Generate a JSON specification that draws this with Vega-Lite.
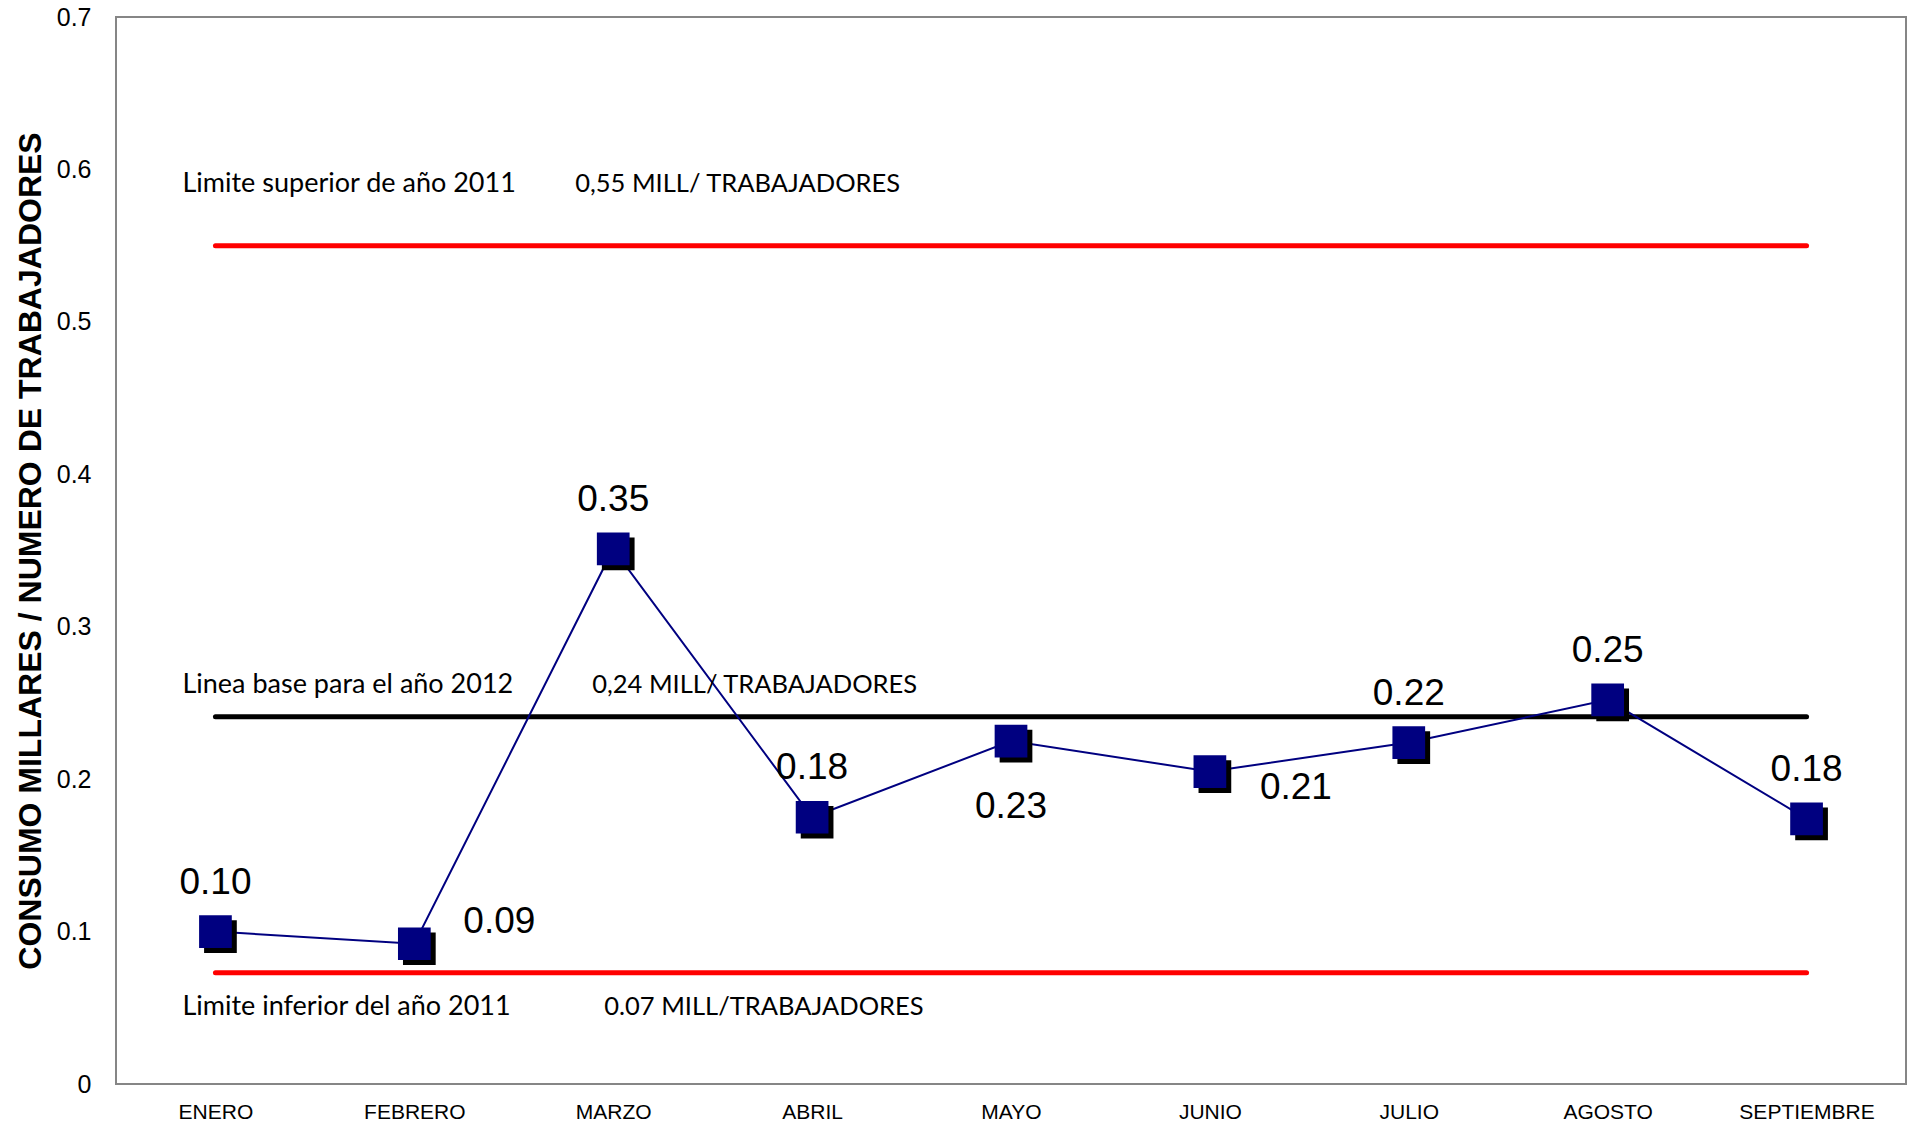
{
  "$schema": "https://vega.github.io/schema/vega-lite/v6.json",
  "width": 1790,
  "height": 1067,
  "autosize": {"type": "none"},
  "padding": {"left": 116, "top": 17, "right": 1, "bottom": 40},
  "background": "white",
  "config": {
    "view": {"stroke": "#868686", "strokeWidth": 2},
    "font": "Liberation Sans"
  },
  "datasets": {
    "consumo": [
      {"mes": "ENERO", "valor": 0.100, "etiqueta": "0.10"},
      {"mes": "FEBRERO", "valor": 0.092, "etiqueta": "0.09"},
      {"mes": "MARZO", "valor": 0.351, "etiqueta": "0.35"},
      {"mes": "ABRIL", "valor": 0.175, "etiqueta": "0.18"},
      {"mes": "MAYO", "valor": 0.225, "etiqueta": "0.23"},
      {"mes": "JUNIO", "valor": 0.205, "etiqueta": "0.21"},
      {"mes": "JULIO", "valor": 0.224, "etiqueta": "0.22"},
      {"mes": "AGOSTO", "valor": 0.252, "etiqueta": "0.25"},
      {"mes": "SEPTIEMBRE", "valor": 0.174, "etiqueta": "0.18"}
    ],
    "limites": [
      {"serie": "Limite superior", "mes": "ENERO", "valor": 0.55},
      {"serie": "Limite superior", "mes": "SEPTIEMBRE", "valor": 0.55},
      {"serie": "Linea base", "mes": "ENERO", "valor": 0.241},
      {"serie": "Linea base", "mes": "SEPTIEMBRE", "valor": 0.241},
      {"serie": "Limite inferior", "mes": "ENERO", "valor": 0.073},
      {"serie": "Limite inferior", "mes": "SEPTIEMBRE", "valor": 0.073}
    ]
  },
  "encoding": {
    "x": {
      "field": "mes",
      "type": "ordinal",
      "sort": ["ENERO", "FEBRERO", "MARZO", "ABRIL", "MAYO", "JUNIO", "JULIO", "AGOSTO", "SEPTIEMBRE"],
      "scale": {
        "type": "point",
        "padding": 0.5,
        "domain": ["ENERO", "FEBRERO", "MARZO", "ABRIL", "MAYO", "JUNIO", "JULIO", "AGOSTO", "SEPTIEMBRE"]
      },
      "axis": {
        "title": null,
        "ticks": false,
        "domain": false,
        "grid": false,
        "labelAngle": 0,
        "labelFontSize": 21,
        "labelPadding": 17,
        "labelColor": "black",
        "labelFont": "Liberation Sans"
      }
    },
    "y": {
      "field": "valor",
      "type": "quantitative",
      "scale": {"domain": [0, 0.7], "nice": false, "zero": true},
      "axis": {
        "title": "CONSUMO  MILLARES / NUMERO DE TRABAJADORES",
        "values": [0, 0.1, 0.2, 0.3, 0.4, 0.5, 0.6, 0.7],
        "format": ".1~f",
        "grid": false,
        "ticks": false,
        "domain": false,
        "labelFlush": false,
        "labelOverlap": false,
        "labelFontSize": 25,
        "labelPadding": 25,
        "labelColor": "black",
        "labelFont": "Liberation Sans",
        "titleFont": "Liberation Sans",
        "titleFontSize": 32,
        "titleFontWeight": "bold",
        "titleColor": "black",
        "titleAngle": 270,
        "titleAlign": "center",
        "titleBaseline": "middle",
        "titleX": -86,
        "titleY": 533.5
      }
    }
  },
  "layer": [
    {
      "data": {"name": "limites"},
      "mark": {"type": "line", "strokeWidth": 5, "strokeCap": "round"},
      "encoding": {
        "color": {
          "field": "serie",
          "type": "nominal",
          "scale": {"domain": ["Limite superior", "Linea base", "Limite inferior"], "range": ["#ff0000", "#000000", "#ff0000"]},
          "legend": null
        }
      }
    },
    {
      "data": {"name": "consumo"},
      "mark": {"type": "line", "color": "#000080", "strokeWidth": 2}
    },
    {
      "data": {"name": "consumo"},
      "mark": {"type": "point", "shape": "square", "filled": true, "opacity": 1, "color": "#000000", "size": 1070, "xOffset": 5, "yOffset": 5}
    },
    {
      "data": {"name": "consumo"},
      "mark": {"type": "point", "shape": "square", "filled": true, "opacity": 1, "color": "#000080", "size": 1070}
    },
    {
      "data": {"name": "consumo"},
      "transform": [{"filter": {"field": "mes", "oneOf": ["ENERO", "MARZO", "ABRIL", "JULIO", "AGOSTO", "SEPTIEMBRE"]}}],
      "mark": {"type": "text", "fontSize": 37, "color": "black", "dy": -49, "baseline": "middle", "align": "center"},
      "encoding": {"text": {"field": "etiqueta"}}
    },
    {
      "data": {"name": "consumo"},
      "transform": [{"filter": {"field": "mes", "equal": "FEBRERO"}}],
      "mark": {"type": "text", "fontSize": 37, "color": "black", "dx": 85, "dy": -22, "baseline": "middle", "align": "center"},
      "encoding": {"text": {"field": "etiqueta"}}
    },
    {
      "data": {"name": "consumo"},
      "transform": [{"filter": {"field": "mes", "equal": "MAYO"}}],
      "mark": {"type": "text", "fontSize": 37, "color": "black", "dy": 66, "baseline": "middle", "align": "center"},
      "encoding": {"text": {"field": "etiqueta"}}
    },
    {
      "data": {"name": "consumo"},
      "transform": [{"filter": {"field": "mes", "equal": "JUNIO"}}],
      "mark": {"type": "text", "fontSize": 37, "color": "black", "dx": 86, "dy": 16, "baseline": "middle", "align": "center"},
      "encoding": {"text": {"field": "etiqueta"}}
    },
    {
      "data": {"values": [
        {"mes": "ENERO", "valor": 0.5907, "texto": "Limite superior de año 2011"},
        {"mes": "ENERO", "valor": 0.262, "texto": "Linea base para el año 2012"},
        {"mes": "ENERO", "valor": 0.0505, "texto": "Limite inferior del año 2011"}
      ]},
      "mark": {"type": "text", "font": "Lato", "fontSize": 27, "color": "black", "align": "left", "baseline": "middle", "dx": -33},
      "encoding": {"text": {"field": "texto"}}
    },
    {
      "data": {"values": [{"mes": "MARZO", "valor": 0.5907, "texto": "0,55 MILL/ TRABAJADORES"}]},
      "mark": {"type": "text", "font": "Lato", "fontSize": 25.5, "color": "black", "align": "left", "baseline": "middle", "dx": -38},
      "encoding": {"text": {"field": "texto"}}
    },
    {
      "data": {"values": [{"mes": "MARZO", "valor": 0.262, "texto": "0,24 MILL/ TRABAJADORES"}]},
      "mark": {"type": "text", "font": "Lato", "fontSize": 25.5, "color": "black", "align": "left", "baseline": "middle", "dx": -21},
      "encoding": {"text": {"field": "texto"}}
    },
    {
      "data": {"values": [{"mes": "MARZO", "valor": 0.0505, "texto": "0.07 MILL/TRABAJADORES"}]},
      "mark": {"type": "text", "font": "Lato", "fontSize": 25.5, "color": "black", "align": "left", "baseline": "middle", "dx": -9},
      "encoding": {"text": {"field": "texto"}}
    }
  ]
}
